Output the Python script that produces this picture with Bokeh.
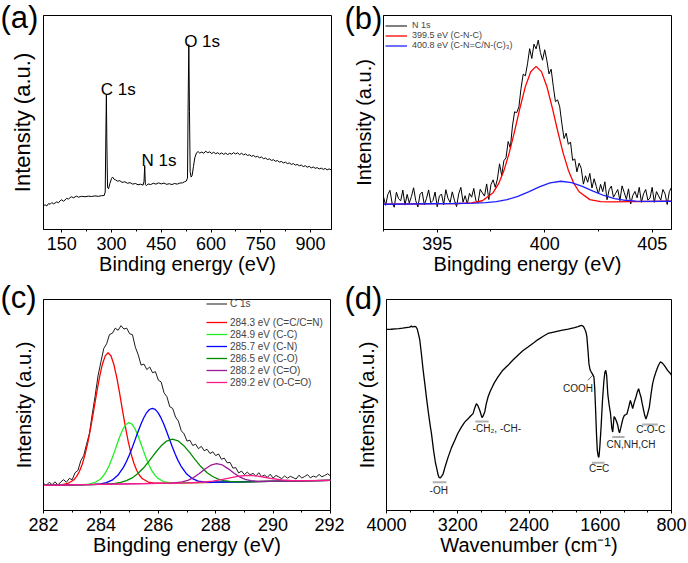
import numpy as np
from bokeh.plotting import figure
from bokeh.layouts import column, row
from bokeh.models import Label, Legend, LegendItem, Range1d, FixedTicker
from bokeh.embed import file_html
from bokeh.resources import INLINE

FONT = "Liberation Sans"

# ---------------- (a) XPS survey ----------------
a_energy = [96, 100, 105, 110, 115, 120, 125, 130, 135, 140, 145, 150, 155, 160, 165, 170, 175, 180,
            185, 190, 195, 200, 210, 220, 230, 240, 250, 260, 270, 278, 281, 283, 284.5, 286, 288,
            291, 295, 300, 303, 307, 312, 318, 325, 332, 340, 348, 356, 364, 372, 380, 388, 395,
            398, 400, 402, 405, 410, 418, 426, 434, 442, 450, 458, 466, 474, 482, 490, 498, 506,
            514, 520, 525, 529, 531, 533, 535, 537, 540, 543, 547, 551, 556, 561, 566, 572, 578,
            584, 590, 596, 602, 608, 614, 620, 626, 632, 638, 644, 650, 656, 662, 668, 674, 680,
            686, 692, 698, 704, 710, 716, 722, 728, 734, 740, 746, 752, 758, 764, 770, 776, 782,
            788, 794, 800, 806, 812, 818, 824, 830, 836, 842, 848, 854, 860, 866, 872, 878, 884,
            890, 896, 902, 908, 914, 920, 926, 932, 938, 944, 950, 956, 962]
a_counts = [11.3, 11.5, 11.0, 12.1, 11.8, 12.6, 12.0, 12.4, 12.9, 12.5, 13.4, 13.9, 13.2, 13.8, 14.6,
            14.2, 14.9, 15.3, 14.8, 15.2, 15.6, 15.1, 15.5, 15.3, 15.6, 15.4, 15.7, 15.5, 15.8,
            15.9, 17.5, 45.0, 63.1, 40.0, 19.8, 19.0, 21.5, 23.8, 24.5, 23.6, 23.2, 22.6, 22.8,
            22.0, 22.3, 21.6, 21.9, 21.2, 21.5, 20.9, 21.2, 20.7, 22.5, 29.9, 21.0, 20.5, 21.3,
            21.0, 21.6, 21.2, 21.8, 21.3, 21.7, 21.1, 21.4, 21.0, 21.5, 21.2, 21.7, 21.8, 22.3,
            22.6, 24.0, 60.0, 86.4, 55.0, 27.0, 24.5, 25.3, 29.5, 33.5, 35.8, 36.4, 35.7, 36.2,
            35.6, 36.6, 35.9, 36.3, 35.5, 36.1, 35.4, 35.9, 35.2, 35.8, 35.1, 35.7, 35.0, 35.6,
            35.2, 35.9, 35.3, 35.8, 35.0, 35.6, 34.9, 35.3, 34.6, 34.9, 34.2, 34.6, 33.9, 34.2,
            33.5, 33.9, 33.1, 33.4, 32.7, 33.0, 32.3, 32.6, 31.9, 32.2, 31.5, 31.8, 31.1, 31.5,
            30.8, 31.1, 30.4, 30.8, 30.1, 30.4, 29.8, 30.1, 29.4, 29.8, 29.1, 29.5, 28.8, 29.2,
            28.6, 28.9, 28.3, 28.7, 28.1, 28.5, 27.9, 28.3, 27.9]
a_peak_names = ["C 1s", "N 1s", "O 1s"]
a_peak_x = [320, 443, 573]
a_peak_y = [65.3, 32.2, 88.0]

# ---------------- (b) N 1s ----------------
b_energy = np.round(np.arange(392.5, 405.95, 0.1), 1)
b_n1s = [15.3, 11.3, 16.3, 18.3, 12.3, 10.4, 17.4, 14.4, 13.4, 18.4,
         11.4, 16.4, 12.4, 15.4, 19.5, 13.5, 10.5, 16.5, 17.5, 11.5,
         14.5, 18.5, 12.5, 13.5, 17.5, 10.6, 15.6, 16.6, 11.6, 18.6,
         14.6, 12.6, 17.6, 13.7, 10.7, 16.7, 19.7, 12.8, 15.8, 11.9,
         16.9, 15.1, 19.2, 13.4, 12.6, 18.8, 17.1, 15.6, 21.3, 14.0,
         21.0, 23.2, 19.7, 23.6, 30.7, 25.2, 32.1, 33.5, 41.1, 38.2,
         48.4, 55.0, 54.6, 57.3, 66.0, 72.6, 71.8, 77.4, 84.5, 79.9,
         86.6, 84.4, 88.5, 82.7, 79.1, 84.0, 79.1, 72.7, 74.9, 66.9,
         59.7, 60.6, 57.3, 49.4, 42.5, 45.0, 39.8, 40.9, 32.3, 33.0,
         26.9, 31.0, 28.6, 21.2, 25.1, 22.1, 26.2, 19.4, 23.7, 20.1,
         16.6, 21.1, 17.7, 22.3, 13.9, 18.6, 20.3, 15.1, 16.9, 18.7,
         13.5, 20.4, 17.3, 14.1, 19.0, 11.9, 15.9, 17.8, 14.8, 19.7,
         12.7, 16.7, 18.7, 13.7, 14.7, 19.7, 12.7, 17.7, 15.7, 13.7,
         18.7, 16.7, 11.7, 17.7, 19.7]
b_cnc_x = [392.5, 395, 396, 396.6, 397.1, 397.6, 397.85, 398.1, 398.35, 398.6, 398.85, 399.1,
           399.35, 399.6, 399.85, 400.1, 400.35, 400.6, 400.85, 401.1, 401.35, 401.6, 402.1,
           402.6, 403.1, 404, 405.9]
b_cnc_y = [11.8, 12.06, 12.16, 12.43, 13.44, 17.22, 21.28, 27.41, 35.79, 46.01, 56.86, 66.76,
           73.73, 76.24, 73.78, 66.86, 57.02, 46.21, 36.05, 27.72, 21.64, 17.64, 13.96, 13.05,
           12.9, 12.99, 13.2]
b_ncn_x = [392.5, 395.75, 396.75, 397.25, 397.75, 398.25, 398.75, 399.25, 399.75, 400.25,
           400.75, 401.25, 401.75, 402.25, 402.75, 403.25, 403.75, 404.25, 404.75, 405.9]
b_ncn_y = [11.8, 12.14, 12.33, 12.55, 13.03, 13.94, 15.48, 17.59, 19.92, 21.8, 22.55, 21.91,
           20.13, 17.9, 15.89, 14.46, 13.66, 13.28, 13.16, 13.2]

# ---------------- (c) C 1s ----------------
c_energy = np.round(np.arange(282.0, 292.05, 0.1), 1)
c_c1s = [12.8, 11.9, 13.4, 12.2, 13.6, 12.1, 13.5, 14.6, 13.4, 15.2,
         14.6, 17.9, 19.0, 23.6, 26.0, 31.4, 36.5, 45.8, 54.4, 63.8,
         70.4, 76.8, 79.0, 83.4, 84.0, 86.4, 85.4, 87.6, 86.0, 86.4,
         83.8, 83.3, 77.4, 73.8, 68.9, 69.4, 66.8, 68.0, 65.3, 65.8,
         61.8, 60.9, 55.8, 53.9, 49.2, 48.4, 44.3, 42.4, 37.8, 36.3,
         32.9, 33.3, 30.8, 31.4, 29.3, 30.4, 28.3, 29.0, 27.0, 27.8,
         26.0, 26.8, 24.3, 24.8, 22.6, 22.8, 20.1, 20.3, 17.8, 18.7,
         17.0, 18.2, 16.9, 17.6, 16.3, 17.9, 16.1, 16.8, 15.7, 17.2,
         15.4, 16.6, 15.9, 15.1, 16.4, 15.3, 16.2, 15.6, 14.9, 16.7,
         15.4, 16.1, 17.0, 15.5, 16.3, 15.8, 17.1, 16.0, 16.6, 17.4,
         16.4]
c_cc_x = [282, 282.45, 282.65, 282.85, 283.05, 283.15, 283.25, 283.35, 283.45, 283.55, 283.65,
          283.75, 283.85, 283.95, 284.05, 284.15, 284.25, 284.35, 284.45, 284.55, 284.65, 284.75,
          284.85, 284.95, 285.05, 285.15, 285.25, 285.35, 285.45, 285.65, 285.85, 286.05, 292]
c_cc_y = [11.9, 12.05, 12.23, 12.8, 14.44, 16.06, 18.49, 21.94, 26.58, 32.52, 39.59, 47.46,
          55.51, 63.08, 69.21, 73.29, 74.74, 73.33, 69.31, 63.22, 55.71, 47.7, 39.87, 32.86,
          26.96, 22.38, 18.97, 16.58, 15.02, 13.48, 12.99, 12.91, 14.3]
c_c_c_x = [282, 283.38, 283.58, 283.78, 283.98, 284.08, 284.18, 284.28, 284.38, 284.48, 284.58,
           284.68, 284.78, 284.88, 284.98, 285.08, 285.18, 285.28, 285.38, 285.48, 285.58,
           285.68, 285.78, 285.88, 285.98, 286.18, 286.38, 286.58, 292]
c_c_c_y = [11.9, 12.28, 12.51, 13.16, 14.84, 16.32, 18.39, 21.09, 24.39, 28.13, 32.07, 35.77,
           38.84, 40.89, 41.62, 40.94, 38.93, 35.92, 32.26, 28.37, 24.68, 21.42, 18.78, 16.75,
           15.32, 13.73, 13.18, 13.05, 14.3]
c_cn_x = [282, 283.79, 283.99, 284.19, 284.39, 284.59, 284.79, 284.89, 284.99, 285.09, 285.19,
          285.29, 285.39, 285.49, 285.59, 285.69, 285.79, 285.89, 285.99, 286.09, 286.19,
          286.29, 286.39, 286.49, 286.59, 286.69, 286.79, 286.99, 287.19, 287.39, 287.59,
          287.79, 292]
c_cn_y = [11.9, 12.42, 12.66, 13.21, 14.38, 16.69, 20.58, 23.2, 26.33, 29.76, 33.46, 37.22,
          40.76, 43.85, 46.3, 47.86, 48.41, 47.9, 46.4, 43.99, 40.96, 37.46, 33.74, 30.1, 26.71,
          23.64, 21.06, 17.27, 15.06, 13.97, 13.52, 13.38, 14.3]
c_co_x = [282, 283.69, 284.09, 284.49, 284.69, 284.89, 285.09, 285.29, 285.49, 285.69, 285.89,
          286.09, 286.29, 286.49, 286.69, 286.89, 287.09, 287.29, 287.49, 287.69, 287.89,
          288.09, 288.29, 288.49, 288.89, 289.29, 292]
c_co_y = [11.9, 12.31, 12.47, 12.85, 13.31, 14.12, 15.45, 17.5, 20.23, 23.61, 27.24, 30.54,
          32.9, 33.78, 33.0, 30.73, 27.53, 23.99, 20.71, 18.05, 16.12, 14.89, 14.17, 13.81,
          13.61, 13.65, 14.3]
c_cdo_x = [282, 286.43, 286.63, 286.83, 287.03, 287.23, 287.43, 287.63, 287.83, 288.03, 288.23,
           288.43, 288.63, 288.83, 289.03, 289.23, 289.43, 289.63, 292]
c_cdo_y = [11.9, 13.01, 13.19, 13.56, 14.31, 15.62, 17.51, 19.68, 21.47, 22.2, 21.57, 19.87,
           17.8, 15.95, 14.79, 14.14, 13.86, 13.78, 14.3]
c_occ_x = [282, 287.0, 287.3, 287.6, 287.9, 288.2, 288.5, 288.8, 289.1, 289.4, 289.7, 290.0,
           290.3, 290.6, 290.9, 291.2, 292]
c_occ_y = [11.9, 13.12, 13.26, 13.5, 13.93, 14.61, 15.47, 16.24, 16.6, 16.39, 15.76, 15.04,
           14.5, 14.21, 14.12, 14.13, 14.3]

# ---------------- (d) FTIR ----------------
d_wavenumber = [4000, 3950, 3900, 3860, 3820, 3780, 3740, 3720, 3710, 3690, 3670, 3655, 3640,
                3626, 3610, 3590, 3570, 3550, 3530, 3510, 3495, 3470, 3450, 3439, 3420, 3409,
                3395, 3380, 3364, 3340, 3308, 3270, 3234, 3200, 3159, 3120, 3084, 3050, 3028,
                3010, 2991, 2975, 2953, 2935, 2927, 2915, 2897, 2880, 2860, 2840, 2822, 2790,
                2748, 2700, 2636, 2580, 2524, 2470, 2411, 2350, 2299, 2240, 2187, 2110, 2038,
                1960, 1888, 1850, 1813, 1790, 1776, 1760, 1750, 1738, 1727, 1715, 1701, 1685,
                1671, 1662, 1652, 1642, 1633, 1622, 1615, 1605, 1590, 1575, 1560, 1548, 1538,
                1528, 1515, 1500, 1485, 1470, 1460, 1452, 1445, 1435, 1420, 1404, 1390, 1383,
                1370, 1359, 1345, 1329, 1310, 1299, 1280, 1262, 1250, 1236, 1220, 1199, 1185,
                1169, 1155, 1143, 1128, 1113, 1100, 1087, 1070, 1049, 1030, 1012, 995, 975, 950,
                926, 905, 881, 860, 844, 820, 800]
d_signal = [85.8, 85.9, 86.1, 86.2, 86.4, 86.7, 86.9, 87.4, 87.0, 87.2, 87.1, 86.0, 83.5, 80.7,
            75.0, 67.0, 60.1, 53.0, 46.5, 40.5, 36.4, 28.0, 22.5, 20.6, 16.8, 15.6, 15.5, 16.3,
            17.4, 21.0, 25.3, 29.8, 33.2, 36.5, 39.5, 42.0, 43.5, 45.0, 45.9, 48.5, 50.6, 49.8,
            47.5, 45.0, 44.0, 44.8, 46.7, 50.5, 53.8, 56.0, 57.7, 60.5, 63.3, 66.2, 68.8, 71.3,
            73.6, 75.7, 77.5, 79.4, 81.0, 82.6, 83.9, 84.7, 85.4, 86.0, 86.7, 87.1, 87.7, 87.3,
            86.2, 84.5, 82.3, 76.0, 69.6, 66.8, 65.6, 64.5, 63.3, 58.0, 47.5, 36.0, 28.5, 25.5,
            25.3, 30.0, 40.0, 52.0, 61.0, 65.5, 66.4, 64.0, 55.0, 50.0, 46.0, 39.0, 37.2, 41.0,
            44.5, 44.0, 42.5, 40.5, 37.5, 36.8, 39.0, 41.1, 43.5, 45.1, 45.5, 45.9, 49.0, 52.2,
            50.5, 48.3, 51.0, 53.8, 56.0, 57.7, 55.5, 53.8, 50.5, 47.5, 45.0, 43.3, 45.5, 49.0,
            55.0, 60.1, 63.0, 65.6, 68.5, 70.4, 70.0, 68.8, 67.5, 66.4, 65.3, 64.1]


def make_panel(width, height, xr, borders, xticks, xminor, xlabel, tag, tag_off,
               ylab_size="20px"):
    left, right, top, bottom = borders
    p = figure(width=width, height=height, x_range=Range1d(*xr), y_range=Range1d(0, 100),
               output_backend="svg", toolbar_location=None,
               min_border_left=left, min_border_right=right,
               min_border_top=top, min_border_bottom=bottom)
    p.xgrid.visible = False
    p.ygrid.visible = False
    p.outline_line_color = "black"
    p.outline_line_alpha = 1.0
    p.outline_line_width = 1
    p.background_fill_color = "white"
    p.border_fill_color = "white"

    xa = p.xaxis[0]
    xa.ticker = FixedTicker(ticks=xticks, minor_ticks=xminor)
    xa.axis_label = xlabel
    xa.axis_label_text_font = FONT
    xa.axis_label_text_font_size = "20px"
    xa.axis_label_text_font_style = "normal"
    xa.axis_label_text_color = "black"
    xa.major_label_text_font = FONT
    xa.major_label_text_font_size = "18px"
    xa.major_label_text_color = "black"
    xa.axis_line_color = "black"
    xa.major_tick_line_color = "black"
    xa.minor_tick_line_color = "black"
    xa.major_tick_in = 0
    xa.major_tick_out = 3
    xa.minor_tick_in = 0
    xa.minor_tick_out = 2
    xa.major_label_standoff = 4
    xa.axis_label_standoff = 0

    ya = p.yaxis[0]
    ya.ticker = FixedTicker(ticks=[], minor_ticks=[])
    ya.major_tick_in = 0
    ya.major_tick_out = 0
    ya.minor_tick_in = 0
    ya.minor_tick_out = 0
    ya.major_label_standoff = 0
    ya.axis_line_color = "black"
    ya.axis_label = "Intensity (a.u.)"
    ya.axis_label_text_font = FONT
    ya.axis_label_text_font_size = ylab_size
    ya.axis_label_text_font_style = "normal"
    ya.axis_label_text_color = "black"
    ya.axis_label_standoff = 9

    # panel tag as the figure title, pulled left of the frame and down beside it
    p.title.text = tag
    p.title.align = "left"
    p.title.offset = tag_off[0]
    p.title.standoff = tag_off[1]
    p.title.text_font = FONT
    p.title.text_font_size = "31px"
    p.title.text_font_style = "normal"
    p.title.text_color = "black"
    return p


# (a)
pa = make_panel(344, 280, (95, 963), (43, 13, 15, 51),
                [150, 300, 450, 600, 750, 900], [225, 375, 525, 675, 825],
                "Binding energy (eV)", "(a)", (-43, -39), ylab_size="22px")
pa.line(a_energy, a_counts, line_color="black", line_width=1)
for name, px, py in zip(a_peak_names, a_peak_x, a_peak_y):
    pa.add_layout(Label(x=px, y=py, text=name, text_font=FONT, text_font_size="17px",
                        text_color="black", text_align="center", text_baseline="alphabetic"))

# (b)
pb = make_panel(343, 280, (392.5, 405.9), (39, 16, 15, 51),
                [395, 400, 405], [392.5, 397.5, 402.5],
                "Bingding energy (eV)", "(b)", (-39, -41))
rb0 = pb.line(b_energy, b_n1s, line_color="black", line_width=1)
rb1 = pb.line(b_cnc_x, b_cnc_y, line_color="#FF0000", line_width=1.3)
rb2 = pb.line(b_ncn_x, b_ncn_y, line_color="#1F1FFF", line_width=1.3)
leg_b = Legend(items=[LegendItem(label="N 1s", renderers=[rb0]),
                      LegendItem(label="399.5 eV (C-N-C)", renderers=[rb1]),
                      LegendItem(label="400.8 eV (C-N=C/N-(C)\u2083)", renderers=[rb2])],
               location=(2, 179), label_text_font=FONT, label_text_font_size="9px",
               label_height=9, glyph_height=9, glyph_width=22, label_standoff=5,
               spacing=0, padding=0, margin=0, border_line_alpha=0,
               background_fill_alpha=0)
pb.add_layout(leg_b)

# (c)
pc = make_panel(344, 282, (282, 292), (43, 14, 15, 52),
                [282, 284, 286, 288, 290, 292], [283, 285, 287, 289, 291],
                "Bingding energy (eV)", "(c)", (-43, -30))
rc0 = pc.line(c_energy, c_c1s, line_color="black", line_width=0.9)
c_colors = ["#FF0000", "#22EE22", "#0000FF", "#008A00", "#9A1A9A", "#FF1A8C"]
c_series = [(c_cc_x, c_cc_y), (c_c_c_x, c_c_c_y), (c_cn_x, c_cn_y), (c_co_x, c_co_y),
            (c_cdo_x, c_cdo_y), (c_occ_x, c_occ_y)]
c_labels = ["284.3 eV (C=C/C=N)", "284.9 eV (C-C)", "285.7 eV (C-N)", "286.5 eV (C-O)",
            "288.2 eV (C=O)", "289.2 eV (O-C=O)"]
c_items = []
for (sx, sy), col, lab in zip(c_series, c_colors, c_labels):
    r = pc.line(sx, sy, line_color=col, line_width=1.3)
    c_items.append(LegendItem(label=lab, renderers=[r]))
leg_c1 = Legend(items=[LegendItem(label="C 1s", renderers=[rc0])],
                location=(163, 200), label_text_font=FONT, label_text_font_size="10px",
                label_height=13, glyph_height=13, glyph_width=21, label_standoff=3,
                spacing=0, padding=0, margin=0, border_line_alpha=0, background_fill_alpha=0)
leg_c2 = Legend(items=c_items,
                location=(163, 122), label_text_font=FONT, label_text_font_size="10px",
                label_height=12, glyph_height=12, glyph_width=21, label_standoff=3,
                spacing=0, padding=0, margin=0, border_line_alpha=0, background_fill_alpha=0)
pc.add_layout(leg_c1)
pc.add_layout(leg_c2)

# (d)
pd_ = make_panel(343, 282, (4000, 800), (42, 16, 19, 52),
                 [4000, 3200, 2400, 1600, 800],
                 [3733.3, 3466.7, 2933.3, 2666.7, 2133.3, 1866.7, 1333.3, 1066.7],
                 "Wavenumber (cm\u207b\u00b9)", "(d)", (-42, -32))
pd_.line(d_wavenumber, d_signal, line_color="black", line_width=1.3)
# grey marker bars and band labels
pd_.segment(x0=[3481, 3002, 1694, 1465, 1129], y0=[13.4, 42.2, 22.6, 34.8, 40.8],
            x1=[3327, 2853, 1552, 1327, 954], y1=[13.4, 42.2, 22.6, 34.8, 40.8],
            line_color="#B0B0B0", line_width=2)
pd_.segment(x0=[1739], y0=[61.7], x1=[1683], y1=[64.1], line_color="#333333", line_width=0.8)
band_texts = [("-OH", 3413, 9.5, "center"), ("-CH\u2082, -CH-", 3032, 38.8, "left"),
              ("COOH", 1849, 57.8, "center"), ("C=C", 1613, 19.8, "center"),
              ("CN,NH,CH", 1529, 31.3, "left"), ("C-O-C", 1196, 38.3, "left")]
for t, bx, by, al in band_texts:
    pd_.add_layout(Label(x=bx, y=by, text=t, text_font=FONT, text_font_size="10px",
                         text_color="#222222", text_align=al, text_baseline="middle"))

layout = column(row(pa, pb), row(pc, pd_))
open("out.html", "w").write(file_html(layout, INLINE))
